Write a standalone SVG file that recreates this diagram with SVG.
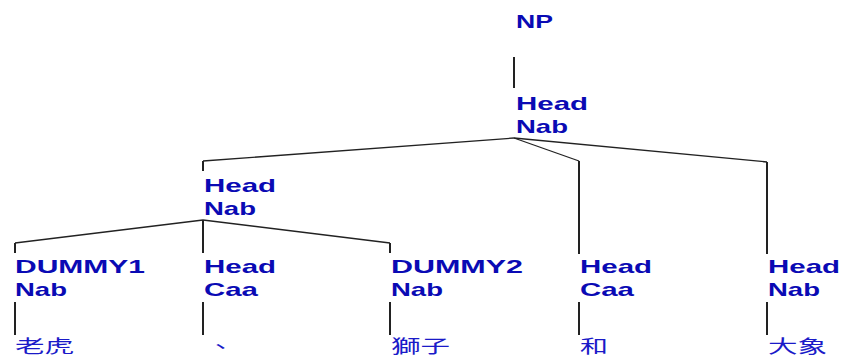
<svg xmlns="http://www.w3.org/2000/svg" width="843" height="355" viewBox="0 0 843 355">
  <style>
    .lbl { font-family: "Liberation Sans", Arial, sans-serif; font-weight: bold; font-size: 19px; fill: #0a0ab4; }
    .word { font-family: "Liberation Sans", "Noto Sans CJK TC", sans-serif; font-size: 18px; fill: #1a1ac8; }
    .edge { fill: none; stroke: #222; stroke-width: 1.3; }
    .stem { fill: none; stroke: #222; stroke-width: 2; }
  </style>
  <rect width="843" height="355" fill="#fff"/>

  <!-- tree edges -->
  <g id="connectors">
    <line class="stem" x1="514" y1="57" x2="514" y2="88"/>
    <polyline class="edge" points="514,138 203,161"/>
    <line class="stem" x1="203" y1="161" x2="203" y2="171"/>
    <polyline class="edge" points="514,138 579,161"/>
    <line class="stem" x1="579" y1="161" x2="579" y2="254"/>
    <polyline class="edge" points="514,138 767,162"/>
    <line class="stem" x1="767" y1="162" x2="767" y2="254"/>

    <polyline class="edge" points="203,220 15,243"/>
    <line class="stem" x1="15" y1="243" x2="15" y2="253"/>
    <line class="stem" x1="203" y1="220" x2="203" y2="253"/>
    <polyline class="edge" points="203,220 390,243"/>
    <line class="stem" x1="390" y1="243" x2="390" y2="253"/>

    <line class="stem" x1="15" y1="302" x2="15" y2="335"/>
    <line class="stem" x1="203" y1="302" x2="203" y2="335"/>
    <line class="stem" x1="390" y1="302" x2="390" y2="335"/>
    <line class="stem" x1="579" y1="302" x2="579" y2="335"/>
    <line class="stem" x1="767" y1="302" x2="767" y2="335"/>
  </g>

  <g id="np">
    <text class="lbl" x="516" y="28" textLength="37" lengthAdjust="spacingAndGlyphs">NP</text>
  </g>
  <g id="head-nab-root">
    <text class="lbl" x="516" y="110" textLength="72" lengthAdjust="spacingAndGlyphs">Head</text>
    <text class="lbl" x="516" y="133" textLength="52" lengthAdjust="spacingAndGlyphs">Nab</text>
  </g>
  <g id="head-nab-inner">
    <text class="lbl" x="204" y="192" textLength="72" lengthAdjust="spacingAndGlyphs">Head</text>
    <text class="lbl" x="204" y="215" textLength="52" lengthAdjust="spacingAndGlyphs">Nab</text>
  </g>
  <g id="dummy1">
    <text class="lbl" x="15" y="273" textLength="130" lengthAdjust="spacingAndGlyphs">DUMMY1</text>
    <text class="lbl" x="15" y="296" textLength="52" lengthAdjust="spacingAndGlyphs">Nab</text>
    <text class="word" x="15" y="352.5" textLength="59" lengthAdjust="spacingAndGlyphs">老虎</text>
  </g>
  <g id="head-caa-1">
    <text class="lbl" x="204" y="273" textLength="72" lengthAdjust="spacingAndGlyphs">Head</text>
    <text class="lbl" x="204" y="296" textLength="54" lengthAdjust="spacingAndGlyphs">Caa</text>
    <text class="word" x="206" y="352.5" textLength="29" lengthAdjust="spacingAndGlyphs">、</text>
  </g>
  <g id="dummy2">
    <text class="lbl" x="391" y="273" textLength="132" lengthAdjust="spacingAndGlyphs">DUMMY2</text>
    <text class="lbl" x="391" y="296" textLength="52" lengthAdjust="spacingAndGlyphs">Nab</text>
    <text class="word" x="391" y="352.5" textLength="59" lengthAdjust="spacingAndGlyphs">獅子</text>
  </g>
  <g id="head-caa-2">
    <text class="lbl" x="580" y="273" textLength="72" lengthAdjust="spacingAndGlyphs">Head</text>
    <text class="lbl" x="580" y="296" textLength="54" lengthAdjust="spacingAndGlyphs">Caa</text>
    <text class="word" x="580" y="352.5" textLength="28" lengthAdjust="spacingAndGlyphs">和</text>
  </g>
  <g id="head-nab-leaf">
    <text class="lbl" x="768" y="273" textLength="72" lengthAdjust="spacingAndGlyphs">Head</text>
    <text class="lbl" x="768" y="296" textLength="52" lengthAdjust="spacingAndGlyphs">Nab</text>
    <text class="word" x="768" y="352.5" textLength="59" lengthAdjust="spacingAndGlyphs">大象</text>
  </g>
</svg>
